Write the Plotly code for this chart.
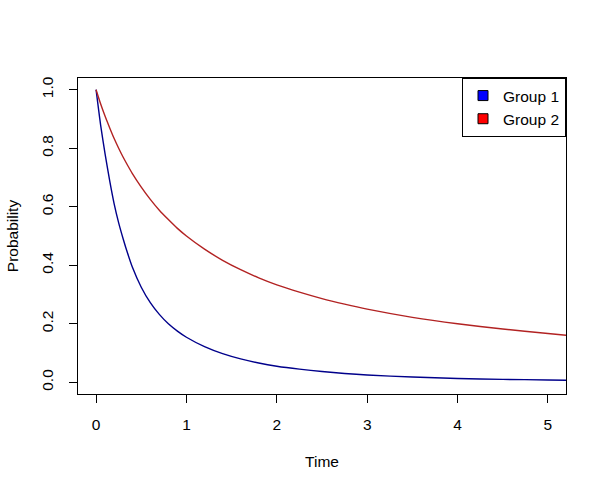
import plotly.graph_objects as go

# Time grid
time = [0, 0.05, 0.1, 0.15, 0.2, 0.25, 0.3, 0.35, 0.4, 0.5, 0.6, 0.7, 0.8, 0.9,
        1.0, 1.2, 1.4, 1.6, 1.8, 2.0, 2.25, 2.5, 2.75, 3.0, 3.5, 4.0, 4.5, 5.0, 5.2]

group1 = [1.0, 0.88, 0.78, 0.69, 0.61, 0.545, 0.49, 0.44, 0.395, 0.325, 0.272, 0.232, 0.200, 0.175,
          0.154, 0.122, 0.098, 0.080, 0.066, 0.055, 0.045, 0.037, 0.030, 0.025, 0.018, 0.013, 0.010, 0.008, 0.007]

group2 = [1.0, 0.952, 0.909, 0.870, 0.833, 0.800, 0.769, 0.741, 0.714, 0.667, 0.625, 0.588, 0.556, 0.526,
          0.500, 0.455, 0.417, 0.385, 0.357, 0.333, 0.308, 0.286, 0.267, 0.250, 0.222, 0.200, 0.182, 0.167, 0.161]

series_names = ["Group 1", "Group 2"]
line_colors = ["#00008B", "#B22222"]
legend_colors = ["#0000FF", "#FF0000"]

x_ticks = [0, 1, 2, 3, 4, 5]
y_ticks = [0.0, 0.2, 0.4, 0.6, 0.8, 1.0]
y_tick_labels = ["0.0", "0.2", "0.4", "0.6", "0.8", "1.0"]

FONT = "Liberation Sans, Arial, sans-serif"
FS = 15.5

fig = go.Figure()
for name, vals, lc in zip(series_names, [group1, group2], line_colors):
    fig.add_trace(go.Scatter(x=time, y=vals, mode="lines", name=name,
                             line=dict(color=lc, width=1.4, shape="spline", smoothing=0.6),
                             showlegend=False, hoverinfo="skip"))
for name, fc in zip(series_names, legend_colors):
    fig.add_trace(go.Scatter(x=[None], y=[None], mode="markers", name=name,
                             marker=dict(symbol="square", size=10, color=fc,
                                         line=dict(color="black", width=1))))

fig.update_layout(
    width=607, height=492,
    margin=dict(l=78, r=41, t=78, b=98),
    paper_bgcolor="white", plot_bgcolor="white",
    font=dict(family=FONT, size=FS, color="black"),
    showlegend=True,
    legend=dict(x=1, y=1, xanchor="right", yanchor="top",
                bordercolor="black", borderwidth=1, bgcolor="white",
                font=dict(size=FS), itemwidth=30, tracegroupgap=0),
)
fig.update_xaxes(range=[-0.2, 5.2], tickvals=x_ticks, ticks="outside", ticklen=8,
                 tickcolor="black", showline=True, linecolor="black", linewidth=1,
                 mirror=True, showgrid=False, zeroline=False,
                 tickfont=dict(size=FS), ticklabelstandoff=8,
                 title=dict(text="Time", font=dict(size=FS), standoff=24))
fig.update_yaxes(range=[-0.04, 1.04], tickvals=y_ticks, ticktext=y_tick_labels,
                 tickangle=-90, ticks="outside", ticklen=8,
                 tickcolor="black", showline=True, linecolor="black", linewidth=1,
                 mirror=True, showgrid=False, zeroline=False,
                 tickfont=dict(size=FS), ticklabelstandoff=10,
                 title=dict(text="Probability", font=dict(size=FS), standoff=16))

fig.write_html("out.html")
